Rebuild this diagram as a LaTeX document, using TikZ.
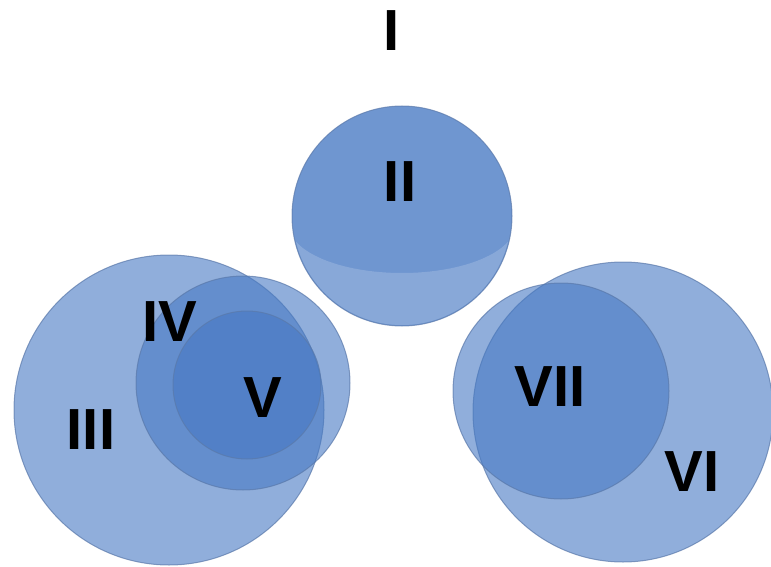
\documentclass[tikz,border=0pt]{standalone}
\usepackage{fontspec}
\setmainfont{Liberation Sans}
\usepackage{tikz}

\definecolor{ballblue}{RGB}{70,120,195}
\definecolor{balledge}{RGB}{90,120,170}

\begin{document}
\begin{tikzpicture}[
    x=1pt,y=-1pt,
    ball/.style={circle,inner sep=0pt,fill=ballblue,fill opacity=0.6,
      draw=balledge,draw opacity=0.7,line width=1pt},
    numeral/.style={font=\bfseries\fontsize{58}{60}\selectfont,text=black,inner sep=0pt}
  ]
    \useasboundingbox (0,0) rectangle (771,567);
    % left group
    \node[ball,minimum size=310pt] (iii) at (169,410) {};
    \node[ball,minimum size=214pt] (iv) at (243,383) {};
    \node[ball,minimum size=148pt] (v) at (247,385) {};
    % top ball
    \node[ball,minimum size=220pt,fill opacity=0.78] (ii) at (402,216) {};
    \begin{scope}
      \clip (402,216) circle (109);
      \clip (280,226) rectangle (530,340);
      \fill[white,opacity=0.18,even odd rule]
        (402,216) circle (112) (402,225) ellipse (113 and 48);
    \end{scope}
    % right group
    \node[ball,minimum size=300pt] (vi) at (623,412) {};
    \node[ball,minimum size=216pt] (vii) at (561,391) {};
    % labels
    \node[numeral] (l1) at (392,31) {I};
    \node[numeral] (l2) at (400,182) {II};
    \node[numeral] (l3) at (91,430) {III};
    \node[numeral] (l4) at (170,322) {IV};
    \node[numeral] (l5) at (263,398) {V};
    \node[numeral] (l6) at (692,472) {VI};
    \node[numeral] (l7) at (550,387) {VII};
  \end{tikzpicture}
\end{document}
